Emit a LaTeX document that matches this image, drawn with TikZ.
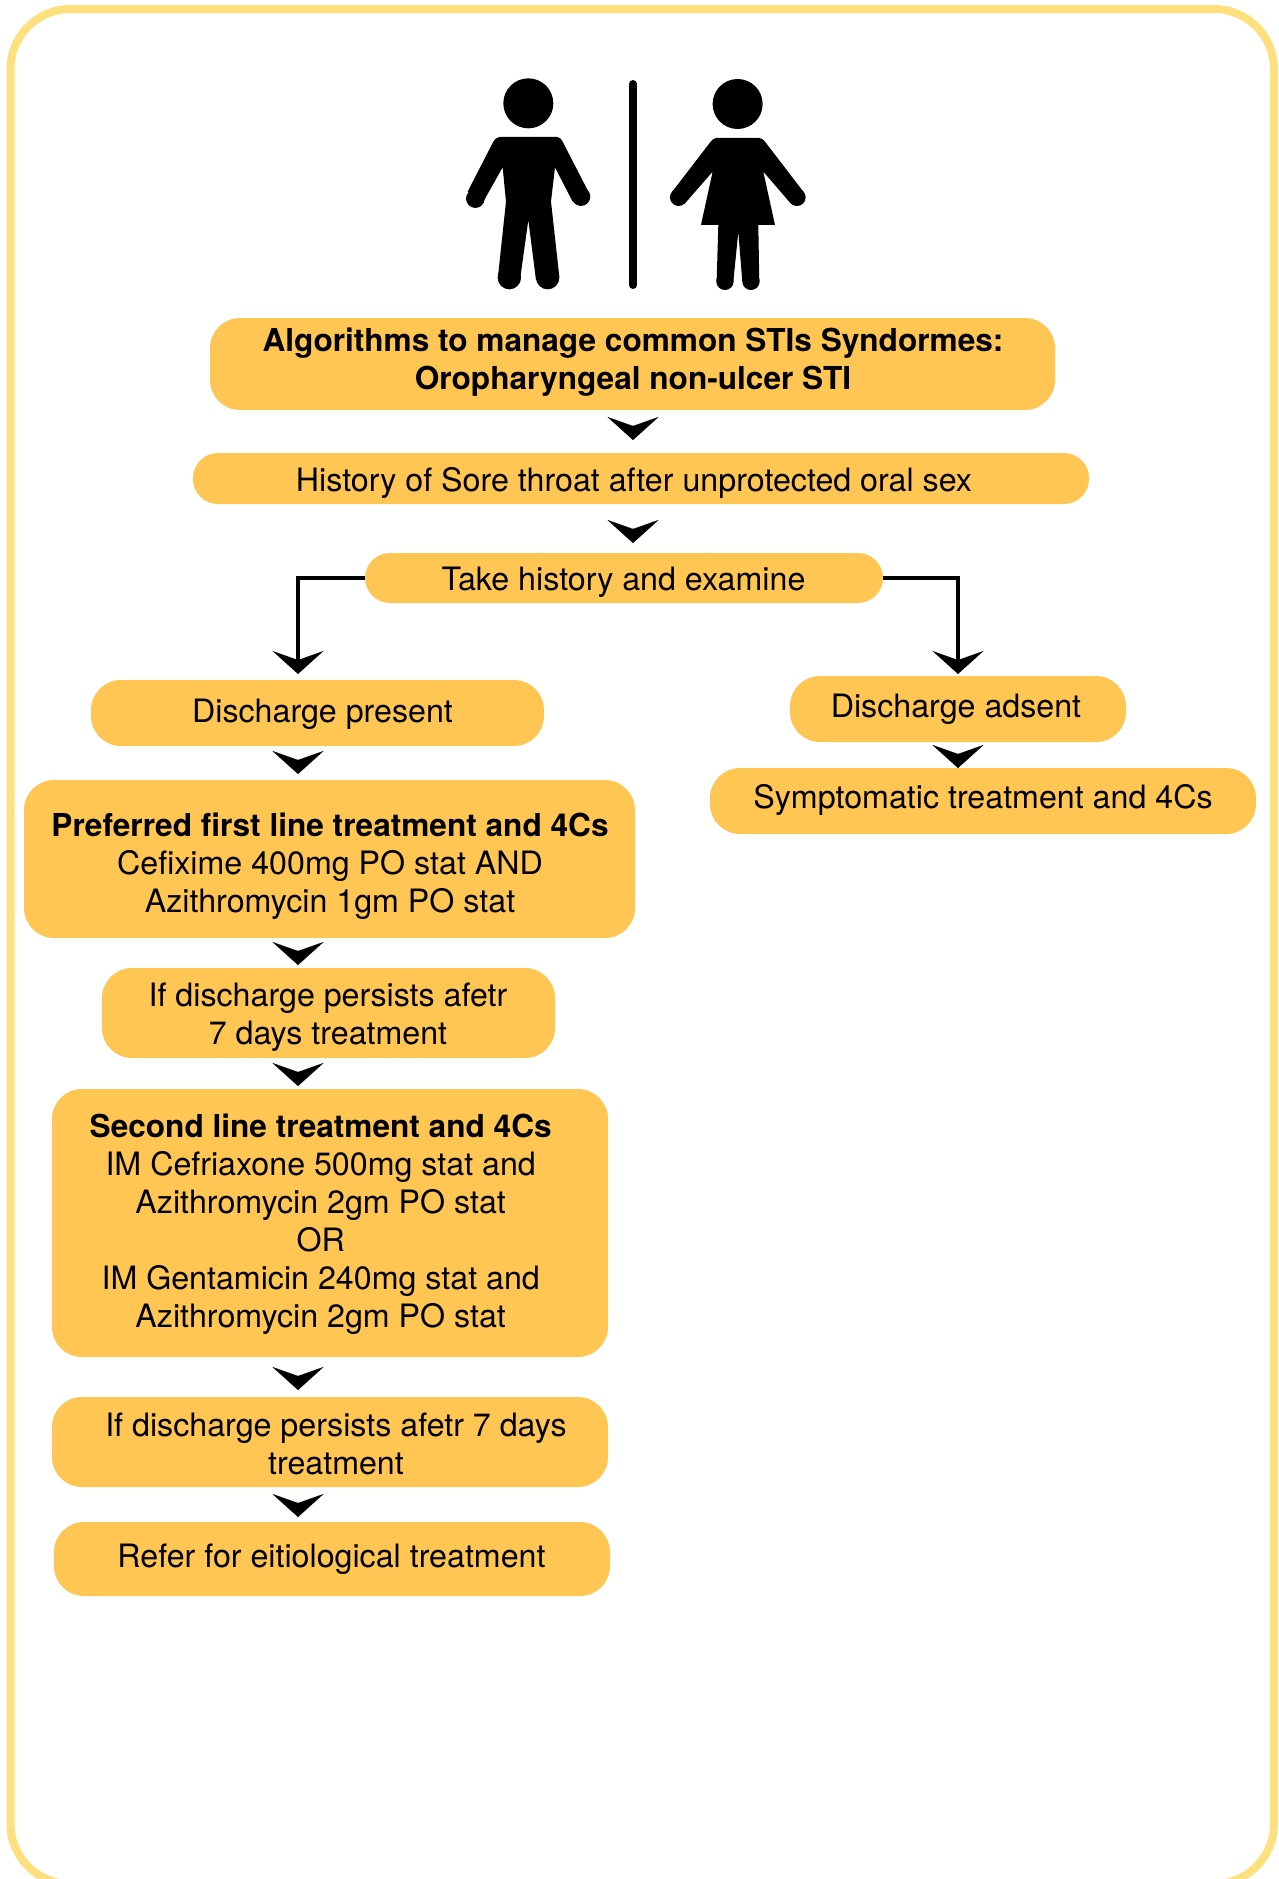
\documentclass[tikz,border=0pt]{standalone}
\usepackage{fontspec}
\setmainfont{TeX Gyre Heros}
\usetikzlibrary{arrows.meta}
\definecolor{boxfill}{HTML}{FFC654}
\definecolor{frameline}{HTML}{FFE07F}
\newcommand{\headline}{\fontsize{31.6}{38}\selectfont\bfseries}
\tikzset{
  flowbox/.style={shape=rectangle,fill=boxfill,inner sep=0pt,outer sep=0pt,rounded corners=#1},
  flowbox/.default=30pt,
  chev/.style={line width=0.1pt,-{Stealth[length=23pt,width=51pt,inset=9pt]}},
  elbow/.style={line width=4.8pt,-{Stealth[length=23pt,width=51pt,inset=9pt]}},
}
\newcommand{\flow}[9][30pt]{%
  \pgfmathsetmacro{\fcx}{(#3+#5)/2}%
  \pgfmathsetmacro{\fcy}{(#4+#6)/2}%
  \pgfmathsetmacro{\fw}{#5-#3}%
  \pgfmathsetmacro{\fh}{#6-#4}%
  \pgfmathsetmacro{\fdx}{2*(#7-\fcx)}%
  \pgfmathsetmacro{\fdy}{\fcy-#8}%
  \node[flowbox=#1,minimum width=\fw pt,minimum height=\fh pt] (#2) at (\fcx,\fcy)
    {\makebox[0pt]{\hspace*{\fdx pt}\raisebox{\fdy pt}[0pt][0pt]{\fontsize{32.2}{38}\selectfont\begin{tabular}[t]{@{}c@{}}#9\end{tabular}}}};%
}
\begin{document}
\begin{tikzpicture}[x=1pt,y=-1pt]
\useasboundingbox (0,0) rectangle (1278,1879);
\begin{scope}
\clip (0,0) rectangle (1278,1879);
\draw[frameline,line width=8pt,rounded corners=60pt] (10.5,9) rectangle (1274,1884);
\end{scope}
% figures
\begin{scope}[shift={(440,60)},x=0.3333pt,y=-0.3333pt]
\fill (265,130) circle (25pt);
\fill (178,231) -- (352,231) -- (362,236) -- (368,245) -- (445,395) -- (398,425) -- (345,322) -- (333,425) -- (358,650) -- (288,660) -- (265,480) -- (240,660) -- (174,650) -- (198,425) -- (188,322) -- (130,425) -- (83,395) -- (160,245) -- (167,236) -- cycle;
\fill (423,410) circle (9.3pt);
\fill (106,416) circle (9.3pt);
\fill (323,653) circle (11.7pt);
\fill (208,653) circle (11.7pt);
\fill (893,132) circle (25pt);
\fill (828,234) -- (958,234) -- (968,238) -- (975,245) -- (1090,395) -- (1052,430) -- (970,335) -- (1005,495) -- (955,495) -- (958,665) -- (907,665) -- (895,515) -- (880,665) -- (830,665) -- (835,495) -- (783,495) -- (818,335) -- (735,430) -- (697,395) -- (812,245) -- (819,238) -- cycle;
\fill (1071,412) circle (8.7pt);
\fill (716,412) circle (8.7pt);
\fill (933,664) circle (8.7pt);
\fill (855,664) circle (8.7pt);
\end{scope}
\draw[line width=8pt,line cap=round] (633,84) -- (633,285);
% boxes
\flow{title}{210}{318}{1055}{410}{633}{351.5}{\headline Algorithms to manage common STIs Syndormes:\\\headline Oropharyngeal non-ulcer STI}
\flow[25pt]{hist}{193}{453}{1089}{504}{634}{491}{History of Sore throat after unprotected oral sex}
\flow[25pt]{take}{365}{553}{883}{603}{623.5}{590}{Take history and examine}
\flow{dp}{91}{680}{544}{746}{322.5}{722}{Discharge present}
\flow{da}{790}{676}{1126}{742}{956}{717}{Discharge adsent}
\flow{sym}{710}{768}{1256}{834}{983}{808}{Symptomatic treatment and 4Cs}
\flow{first}{24}{780}{635}{938}{330}{836}{\headline Preferred first line treatment and 4Cs\\Cefixime 400mg PO stat AND\\Azithromycin 1gm PO stat}
\flow{pers}{102}{968}{555}{1058}{328}{1006}{If discharge persists afetr\\7 days treatment}
\flow{second}{52}{1089}{608}{1357}{320.7}{1137}{\headline Second line treatment and 4Cs\\IM Cefriaxone 500mg stat and\\Azithromycin 2gm PO stat\\OR\\IM Gentamicin 240mg stat and\\Azithromycin 2gm PO stat}
\flow{persb}{52}{1397}{608}{1487}{336}{1436}{If discharge persists afetr 7 days\\treatment}
\flow{refer}{54}{1522}{610}{1596}{331.5}{1567}{Refer for eitiological treatment}
% connectors
\coordinate (cx) at (633,0);
\coordinate (lx) at (298,0);
\coordinate (rx) at (958,0);
\draw[chev,shorten <=15.5pt,shorten >=13pt] (title.south -| cx) -- (hist.north -| cx);
\draw[chev,shorten <=24.5pt,shorten >=10pt] (hist.south -| cx) -- (take.north -| cx);
\draw[elbow,shorten >=6pt] (take.west) -| (dp.north -| lx);
\draw[elbow,shorten >=2pt] (take.east) -| (da.north -| rx);
\draw[chev,shorten <=13.5pt,shorten >=6pt] (dp.south -| lx) -- (first.north -| lx);
\draw[chev,shorten <=11.5pt] (da.south -| rx) -- (sym.north -| rx);
\draw[chev,shorten <=12.5pt,shorten >=3pt] (first.south -| lx) -- (pers.north -| lx);
\draw[chev,shorten <=13.5pt,shorten >=3pt] (pers.south -| lx) -- (second.north -| lx);
\draw[chev,shorten <=18.5pt,shorten >=7pt] (second.south -| lx) -- (persb.north -| lx);
\draw[chev,shorten <=15.5pt,shorten >=5pt] (persb.south -| lx) -- (refer.north -| lx);
\end{tikzpicture}
\end{document}
